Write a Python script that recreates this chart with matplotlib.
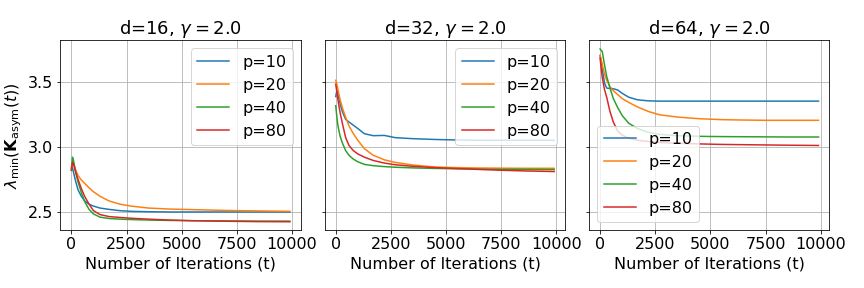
import matplotlib
matplotlib.use("Agg")
import matplotlib.pyplot as plt

plt.rcParams["font.size"] = 16

iters = [0, 50, 100, 200, 300, 450, 600, 800, 1000, 1300, 1700, 2200, 2700, 3500, 4500, 5500, 6500, 7500, 8500, 9900]
p_values = [10, 20, 40, 80]
dims = [16, 32, 64]

# d=16
d16_p10 = [2.82, 2.84, 2.80, 2.73, 2.67, 2.62, 2.585, 2.56, 2.545, 2.53, 2.52, 2.51, 2.505, 2.502, 2.50, 2.50, 2.50, 2.50, 2.50, 2.50]
d16_p20 = [2.84, 2.87, 2.86, 2.82, 2.78, 2.745, 2.72, 2.685, 2.655, 2.62, 2.585, 2.56, 2.545, 2.53, 2.522, 2.518, 2.514, 2.51, 2.508, 2.505]
d16_p40 = [2.83, 2.92, 2.89, 2.80, 2.73, 2.65, 2.58, 2.52, 2.485, 2.46, 2.45, 2.445, 2.442, 2.438, 2.435, 2.433, 2.432, 2.431, 2.43, 2.43]
d16_p80 = [2.82, 2.88, 2.87, 2.80, 2.75, 2.68, 2.62, 2.56, 2.51, 2.48, 2.465, 2.458, 2.452, 2.445, 2.438, 2.433, 2.43, 2.428, 2.426, 2.425]

# d=32
d32_p10 = [3.385, 3.43, 3.40, 3.33, 3.27, 3.21, 3.19, 3.165, 3.14, 3.10, 3.085, 3.087, 3.07, 3.062, 3.056, 3.052, 3.05, 3.05, 3.05, 3.05]
d32_p20 = [3.51, 3.48, 3.44, 3.36, 3.30, 3.225, 3.16, 3.10, 3.05, 2.985, 2.935, 2.90, 2.88, 2.86, 2.845, 2.84, 2.837, 2.836, 2.835, 2.835]
d32_p40 = [3.315, 3.23, 3.16, 3.08, 3.03, 2.97, 2.935, 2.905, 2.885, 2.865, 2.855, 2.848, 2.843, 2.838, 2.834, 2.831, 2.829, 2.827, 2.826, 2.825]
d32_p80 = [3.48, 3.42, 3.36, 3.26, 3.18, 3.07, 3.01, 2.97, 2.945, 2.92, 2.895, 2.875, 2.862, 2.85, 2.84, 2.833, 2.826, 2.82, 2.815, 2.81]

# d=64
d64_p10 = [3.70, 3.66, 3.60, 3.49, 3.45, 3.447, 3.445, 3.435, 3.41, 3.38, 3.36, 3.352, 3.35, 3.35, 3.35, 3.35, 3.35, 3.35, 3.35, 3.35]
d64_p20 = [3.70, 3.67, 3.63, 3.56, 3.51, 3.46, 3.43, 3.40, 3.37, 3.34, 3.305, 3.27, 3.245, 3.228, 3.215, 3.208, 3.205, 3.203, 3.203, 3.203]
d64_p40 = [3.75, 3.74, 3.73, 3.63, 3.54, 3.45, 3.37, 3.30, 3.24, 3.18, 3.14, 3.11, 3.095, 3.085, 3.08, 3.078, 3.077, 3.076, 3.075, 3.075]
d64_p80 = [3.68, 3.60, 3.53, 3.44, 3.38, 3.27, 3.19, 3.12, 3.09, 3.065, 3.05, 3.04, 3.033, 3.027, 3.022, 3.018, 3.016, 3.014, 3.012, 3.01]

curves = {
    16: [d16_p10, d16_p20, d16_p40, d16_p80],
    32: [d32_p10, d32_p20, d32_p40, d32_p80],
    64: [d64_p10, d64_p20, d64_p40, d64_p80],
}
legend_locs = {16: "upper right", 32: "upper right", 64: "lower left"}

fig, axes = plt.subplots(1, 3, figsize=(12, 4), dpi=72, sharey=True)
fig.subplots_adjust(left=0.07, right=0.96, top=0.86, bottom=0.2, wspace=0.1)

for ax, d in zip(axes, dims):
    for p, ys in zip(p_values, curves[d]):
        ax.plot(iters, ys, label=f"p={p}")
    ax.set_title(f"d={d}, $\\gamma = 2.0$", fontsize=18)
    ax.set_xlabel("Number of Iterations (t)")
    ax.grid(True)
    ax.legend(loc=legend_locs[d])
    ax.set_xticks([0, 2500, 5000, 7500, 10000])

axes[0].set_ylabel(r"$\lambda_{\min}(\mathbf{K}_{\rm asym}(t))$")
axes[0].set_yticks([2.5, 3.0, 3.5])

plt.savefig("out.png")
